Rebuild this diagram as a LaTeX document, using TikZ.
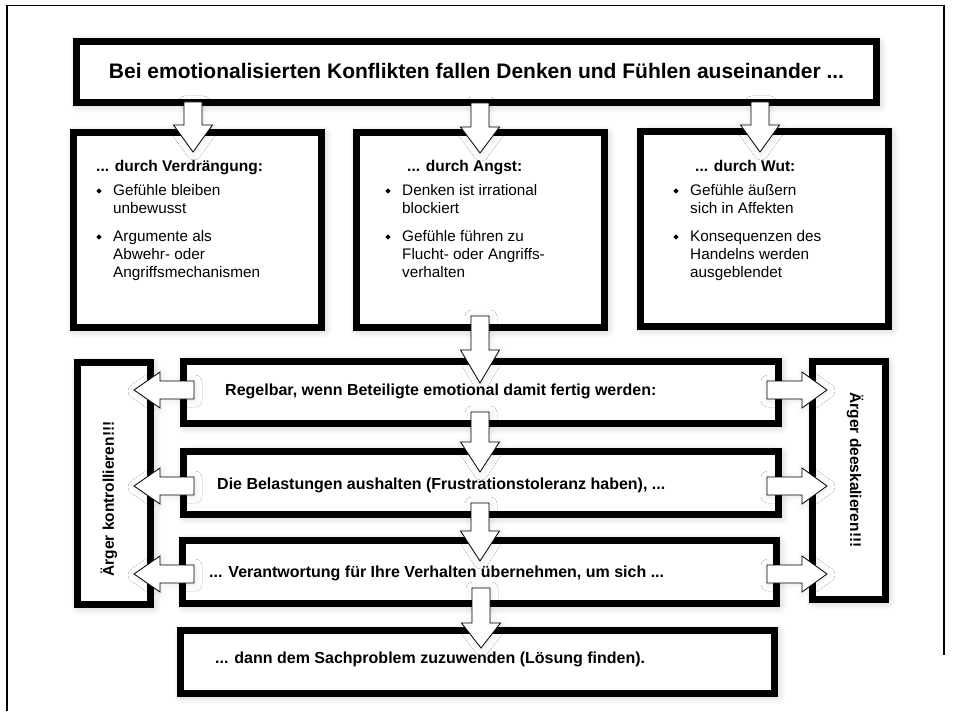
\documentclass[tikz,border=0pt]{standalone}
\usepackage{fontspec}
\setmainfont{Liberation Sans}
\usetikzlibrary{shadows.blur,shapes.geometric}
\tikzset{
  glow/.style={blur shadow={shadow xshift=2pt,shadow yshift=-2pt,shadow blur radius=9pt,shadow blur steps=12,shadow opacity=25}},
  softglow/.style={blur shadow={shadow xshift=1pt,shadow yshift=-1pt,shadow blur radius=7pt,shadow blur steps=10,shadow opacity=10}},
  boxst/.style={rectangle,draw=black,line width=7pt,fill=white,inner sep=0pt,glow},
  blockarrow/.style={draw=black,line width=0.8pt,fill=white,line join=miter,softglow},
  txt/.style={inner sep=0pt,anchor=base west,align=left,font=\fontsize{15.3}{18}\selectfont},
  head/.style={inner sep=0pt,anchor=base west,font=\bfseries\fontsize{15.5}{18}\selectfont},
  rowtxt/.style={inner sep=0pt,anchor=base west,font=\bfseries\fontsize{16}{19}\selectfont},
  vtxt/.style={inner sep=0pt,font=\bfseries\fontsize{15.5}{18}\selectfont},
  bul/.style={diamond,fill=black,inner sep=0pt,minimum size=5.5pt},
  framest/.style={draw=black,line width=1.6pt}
}
\newcommand\darrow[4]{%
  \path[blockarrow] (#1-9,#2) -- (#1+9,#2) -- (#1+9,#3) -- (#1+19.5,#3) -- (#1,#4) -- (#1-19.5,#3) -- (#1-9,#3) -- cycle;}
\newcommand\larrow[4]{%
  \path[blockarrow] (#4,#1-9) -- (#3,#1-9) -- (#3,#1-18) -- (#2,#1) -- (#3,#1+18) -- (#3,#1+9) -- (#4,#1+9) -- cycle;}
\newcommand\rarrow[4]{%
  \path[blockarrow] (#2,#1-9) -- (#3,#1-9) -- (#3,#1-18) -- (#4,#1) -- (#3,#1+18) -- (#3,#1+9) -- (#2,#1+9) -- cycle;}
\begin{document}
\begin{tikzpicture}[x=1pt,y=-1pt]
\useasboundingbox (0,0) rectangle (954,722);
% outer frame
\draw[framest] (7,711) -- (7,5.5) -- (944,5.5) -- (944,655);
% boxes
\node[boxst,minimum width=800pt,minimum height=61pt] (top) at (476.5,72) {};
\node[boxst,minimum width=248pt,minimum height=195pt] (b1) at (197.5,230) {};
\node[boxst,minimum width=248pt,minimum height=195pt] (b2) at (480.5,230) {};
\node[boxst,minimum width=248pt,minimum height=195pt] (b3) at (764.5,229) {};
\node[boxst,minimum width=73pt,minimum height=242pt] (lv) at (114,483.5) {};
\node[boxst,minimum width=73pt,minimum height=238pt] (rv) at (849,480.5) {};
\node[boxst,minimum width=595pt,minimum height=62pt] (r1) at (481,392.5) {};
\node[boxst,minimum width=595pt,minimum height=63pt] (r2) at (481,483) {};
\node[boxst,minimum width=594pt,minimum height=63pt] (r3) at (479.5,572) {};
\node[boxst,minimum width=594pt,minimum height=63pt] (r4) at (477.75,662) {};
% title
\node[inner sep=0pt,anchor=base,font=\bfseries\fontsize{21}{24}\selectfont] (title) at (476.5,79) {Bei emotionalisierten Konflikten fallen Denken und Fühlen auseinander ...};
% box 1
\node[head] (h1) at (96,172) {... durch Verdrängung:};
\node[bul] (p11) at (99,191) {};
\node[txt] (t11) at (113,214) {Gefühle bleiben\\unbewusst};
\node[bul] (p12) at (99,237) {};
\node[txt] (t12) at (113,278) {Argumente als\\Abwehr- oder\\Angriffsmechanismen};
% box 2
\node[head] (h2) at (407,172) {... durch Angst:};
\node[bul] (p21) at (388,191) {};
\node[txt] (t21) at (402,214) {Denken ist irrational\\blockiert};
\node[bul] (p22) at (388,237) {};
\node[txt] (t22) at (402,278) {Gefühle führen zu\\Flucht- oder Angriffs-\\verhalten};
% box 3
\node[head] (h3) at (695,172) {... durch Wut:};
\node[bul] (p31) at (676,191) {};
\node[txt] (t31) at (690,214) {Gefühle äußern\\sich in Affekten};
\node[bul] (p32) at (676,237) {};
\node[txt] (t32) at (690,278) {Konsequenzen des\\Handelns werden\\ausgeblendet};
% rows
\node[rowtxt] (q1) at (225,395) {Regelbar, wenn Beteiligte emotional damit fertig werden:};
\node[rowtxt] (q2) at (217,489) {Die Belastungen aushalten (Frustrationstoleranz haben), ...};
\node[rowtxt] (q3) at (209,577) {... Verantwortung für Ihre Verhalten übernehmen, um sich ...};
\node[rowtxt] (q4) at (215,663) {... dann dem Sachproblem zuzuwenden (Lösung finden).};
% vertical texts
\node[vtxt,rotate=90] (vl) at (109,499) {Ärger kontrollieren!!!};
\node[vtxt,rotate=-90] (vr) at (855,470) {Ärger deeskalieren!!!};
% down arrows
\darrow{193}{102}{125}{152}
\darrow{480}{103}{127}{153}
\darrow{760}{102}{125}{152}
\darrow{480}{316}{350}{383}
\darrow{480}{412}{442}{472}
\darrow{480}{503}{531}{561}
\darrow{481}{588}{623}{648}
% side arrows
\larrow{390}{134}{160}{194}
\larrow{486}{134}{160}{194}
\larrow{574}{134}{160}{194}
\rarrow{390}{767}{802}{827}
\rarrow{486}{767}{802}{827}
\rarrow{574}{767}{802}{827}
\end{tikzpicture}
\end{document}
